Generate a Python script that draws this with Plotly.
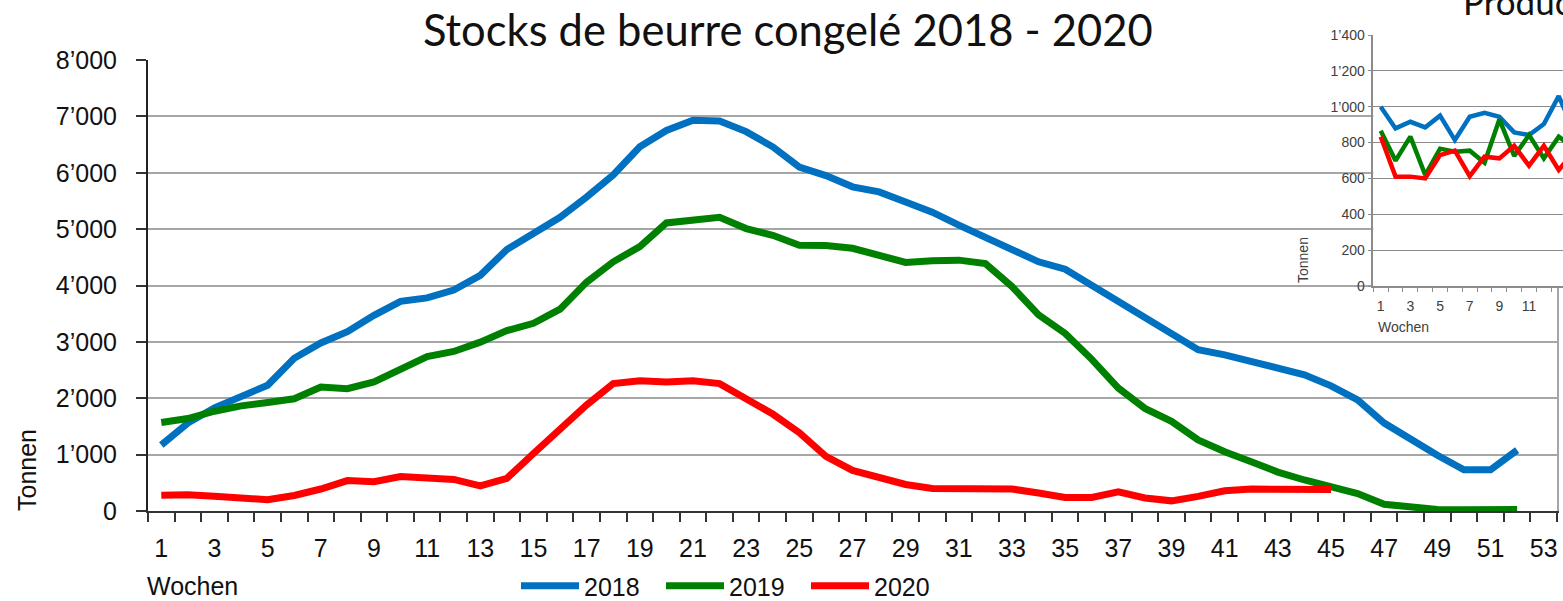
import plotly.graph_objects as go

W, H = 1563, 601

# Stocks de beurre congelé (Tonnen), Wochen 1..52
weeks = list(range(1, 53))
stock_2018 = [1170, 1560, 1830, 2030, 2230, 2710, 2980, 3180, 3470, 3720,
              3780, 3920, 4180, 4640, 4910, 5210, 5570, 5960, 6460, 6750,
              6930, 6920, 6730, 6460, 6100, 5950, 5750, 5660, 5480, 5300,
              5070, 4850, 4660, 4420, 4290, 4000, 3730, 3420, 3160, 2860,
              2770, 2650, 2560, 2415, 2220, 1970, 1560, 1260, 990, 730,
              730, 1080]
stock_2019 = [1570, 1640, 1770, 1865, 1925, 1990, 2200, 2170, 2290, 2510,
              2740, 2830, 2995, 3200, 3330, 3580, 4060, 4420, 4690, 5110,
              5160, 5210, 5010, 4890, 4715, 4710, 4660, 4540, 4410, 4440,
              4450, 4390, 3980, 3480, 3150, 2690, 2180, 1820, 1590, 1260,
              1050, 875, 690, 550, 430, 310, 120, 70, 25, 20,
              20, 25]
stock_2020 = [280, 290, 260, 230, 200, 275, 390, 540, 520, 610,
              595, 560, 445, 580, 1020, 1460, 1880, 2260, 2310, 2290,
              2310, 2260, 1980, 1720, 1390, 970, 720, 600, 470, 400,
              400, 390, 390, 320, 240, 240, 340, 230, 180, 260,
              360, 390, 390, 390, 380]

# Production (inset, cut off on the right)
prod_weeks = list(range(1, 15))
prod_2018 = [1000, 879, 916, 885, 950, 814, 944, 966, 944, 857, 842, 903, 1059, 870]
prod_2019 = [866, 699, 833, 619, 766, 749, 755, 688, 929, 725, 842, 712, 833, 770]
prod_2020 = [833, 610, 610, 600, 730, 755, 613, 721, 712, 782, 671, 782, 647, 745]

years = ["2018", "2019", "2020"]
colors = ["#0070C0", "#008000", "#FF0000"]

y_ticks = [0, 1000, 2000, 3000, 4000, 5000, 6000, 7000, 8000]
y_labels = ["0", "1’000", "2’000", "3’000", "4’000", "5’000", "6’000", "7’000", "8’000"]
inset_ticks = [0, 200, 400, 600, 800, 1000, 1200, 1400]
inset_labels = ["0", "200", "400", "600", "800", "1’000", "1’200", "1’400"]


def px_x(p):
    return p / W


def px_y(p):
    return 1 - p / H


fig = go.Figure()

for name, ys, c in zip(years, [stock_2018, stock_2019, stock_2020], colors):
    fig.add_trace(go.Scatter(x=weeks[:len(ys)], y=ys, name=name, mode="lines",
                             line=dict(color=c, width=7), xaxis="x", yaxis="y"))

for name, ys, c in zip(years, [prod_2018, prod_2019, prod_2020], colors):
    fig.add_trace(go.Scatter(x=prod_weeks, y=ys, name=name, mode="lines",
                             line=dict(color=c, width=4.5), showlegend=False,
                             xaxis="x3", yaxis="y3"))

# right border of the main plot area
fig.add_trace(go.Scatter(x=[None], y=[None], xaxis="x", yaxis="y4", showlegend=False,
                         hoverinfo="skip"))

font_main = "Liberation Sans, Arial, sans-serif"
font_title = "Lato, sans-serif"

fig.update_layout(
    width=W, height=H,
    margin=dict(l=0, r=0, t=0, b=0, autoexpand=False),
    paper_bgcolor="white", plot_bgcolor="white",
    font=dict(family=font_main, color="#111111"),
    showlegend=True,
    legend=dict(orientation="h", x=px_x(516), xanchor="left", y=px_y(586), yanchor="middle",
                font=dict(size=25, color="#111111"), itemwidth=58, entrywidth=72,
                tracegroupgap=0, bgcolor="rgba(0,0,0,0)"),
    xaxis=dict(domain=[px_x(148), px_x(1557)], range=[0.5, 53.5],
               tickmode="linear", tick0=1, dtick=2, ticks="",
               ticklabelstandoff=14,
               tickfont=dict(size=25), showgrid=False, zeroline=False,
               showline=True, linecolor="#333333", linewidth=2,
               minor=dict(tickmode="linear", tick0=0.5, dtick=1, ticks="outside",
                          ticklen=9, tickwidth=1.5, tickcolor="#333333", showgrid=False),
               anchor="y"),
    yaxis=dict(domain=[px_y(511), px_y(60)], range=[0, 8000],
               tickmode="array", tickvals=y_ticks, ticktext=y_labels,
               ticks="outside", ticklen=10, tickwidth=1.5, tickcolor="#333333",
               ticklabelstandoff=14,
               tickfont=dict(size=25), showgrid=True, gridcolor="#a6a6a6", gridwidth=1.5,
               zeroline=False, showline=True, linecolor="#222222", linewidth=2,
               anchor="x"),
    yaxis4=dict(overlaying="y", side="right", anchor="x", range=[0, 8000],
                showline=True, linecolor="#a6a6a6", linewidth=2,
                showgrid=False, zeroline=False, showticklabels=False, ticks=""),
    # white cover behind the inset
    xaxis2=dict(domain=[px_x(1296), 1], anchor="y2", showgrid=False, zeroline=False,
                showline=False, showticklabels=False, ticks=""),
    yaxis2=dict(domain=[px_y(333), 1], anchor="x2", showgrid=False, zeroline=False,
                showline=False, showticklabels=False, ticks=""),
    # inset chart
    xaxis3=dict(domain=[px_x(1373.3), 1], range=[0.5, 13.29], anchor="y3",
                tickmode="linear", tick0=1, dtick=2, ticks="",
                ticklabelstandoff=6,
                tickfont=dict(size=14, color="#404040"), showgrid=False, zeroline=False,
                showline=True, linecolor="#8c8c8c", linewidth=1.5,
                minor=dict(tickmode="linear", tick0=0.5, dtick=1, ticks="outside",
                           ticklen=4, tickwidth=1, tickcolor="#8c8c8c", showgrid=False)),
    yaxis3=dict(domain=[px_y(286), px_y(35)], range=[0, 1400], anchor="x3",
                tickmode="array", tickvals=inset_ticks, ticktext=inset_labels,
                ticks="outside", ticklen=4, tickwidth=1, tickcolor="#8c8c8c",
                tickfont=dict(size=14, color="#404040"), showgrid=True,
                gridcolor="#8c8c8c", gridwidth=1.2, zeroline=False,
                showline=True, linecolor="#8c8c8c", linewidth=1.5),
)

annotations = [
    dict(text="Stocks de beurre congelé 2018 - 2020", x=px_x(788), y=px_y(29),
         xanchor="center", yanchor="middle", showarrow=False,
         font=dict(family=font_title, size=43.5, color="#111111")),
    dict(text="Production de beurre 2018 - 2020", x=px_x(1461), y=px_y(24),
         xanchor="left", yanchor="bottom", showarrow=False,
         font=dict(family=font_title, size=35, color="#111111")),
    dict(text="Tonnen", x=px_x(27), y=px_y(470), textangle=-90,
         xanchor="center", yanchor="middle", showarrow=False,
         font=dict(size=25, color="#111111")),
    dict(text="Wochen", x=px_x(145), y=px_y(586),
         xanchor="left", yanchor="middle", showarrow=False,
         font=dict(size=25, color="#111111")),
    dict(text="Tonnen", x=px_x(1303), y=px_y(260), textangle=-90,
         xanchor="center", yanchor="middle", showarrow=False,
         font=dict(size=14, color="#404040")),
    dict(text="Wochen", x=px_x(1376), y=px_y(327),
         xanchor="left", yanchor="middle", showarrow=False,
         font=dict(size=14, color="#404040")),
]
for a in annotations:
    a["xref"] = "paper"
    a["yref"] = "paper"
    fig.add_annotation(**a)

# no default body margin, so the figure fills the window
fig.write_html("out.html", config={"displayModeBar": False},
               post_script="document.body.style.margin = '0';")
